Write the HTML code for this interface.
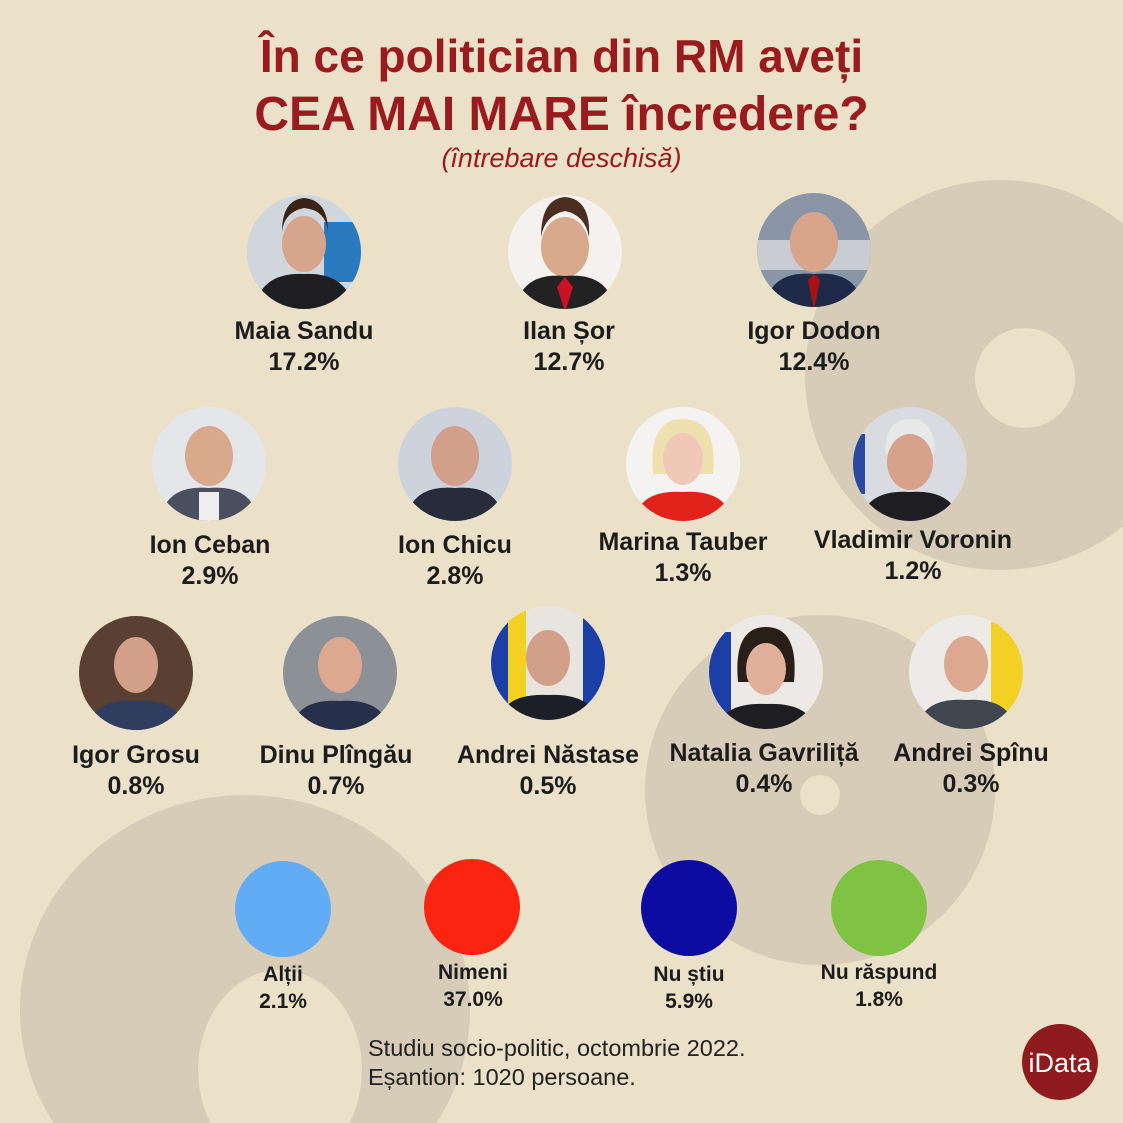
<!DOCTYPE html>
<html style="overflow:hidden"><head><meta charset="utf-8"><style>
html,body{margin:0;width:1123px;height:1123px;overflow:hidden;}
body{background:#ebe1c8;font-family:"Liberation Sans Narrow","Liberation Sans",sans-serif;position:relative;}
.a{position:absolute;}
.t{position:absolute;left:0;width:1123px;text-align:center;color:#9a1b1e;font-weight:bold;}
.lb{position:absolute;text-align:center;font-weight:bold;color:#1c1c1c;font-size:25px;line-height:31px;width:260px;}
.sm{font-size:21px;line-height:27px;}
</style></head><body>
<svg class="a" style="left:0;top:0" width="1123" height="1123">
<g fill="#d6ccb8">
<circle cx="1000" cy="375" r="195"/>
<circle cx="820" cy="790" r="175"/>
<ellipse cx="245" cy="1010" rx="225" ry="215"/>
</g>
<g fill="#ebe1c8">
<circle cx="1025" cy="378" r="50"/>
<circle cx="820" cy="795" r="20"/>
<ellipse cx="280" cy="1070" rx="82" ry="100"/>
</g>
<defs>
<clipPath id="c"><circle cx="0" cy="0" r="57"/></clipPath>
</defs>
<g>
<g transform="translate(304,252)"><g clip-path="url(#c)"><rect x="-60" y="-60" width="120" height="120" fill="#cfd6dc"/><rect x="20" y="-30" width="40" height="60" fill="#2a7ac0"/><ellipse cx="0" cy="-8" rx="22" ry="28" fill="#d6a58c"/><path d="M-22-20q0-32 22-34q24 2 24 34q-2-22-24-24q-20 4-22 24z" fill="#3a2418"/><path d="M-50 60q5-40 50-38q45-2 50 38z" fill="#1d1d22"/></g></g>
<g transform="translate(565,252)"><g clip-path="url(#c)"><rect x="-60" y="-60" width="120" height="120" fill="#f4f1ee"/><ellipse cx="0" cy="-5" rx="24" ry="30" fill="#d9a98c"/><path d="M-24-15q0-38 24-40q26 2 24 40q-4-22-24-26q-20 4-24 26z" fill="#4a2e1f"/><path d="M-50 60q5-40 50-36q45-4 50 36z" fill="#222"/><path d="M-8 35l8-10 8 10-8 25z" fill="#c12"/></g></g>
<g transform="translate(814,250)"><g clip-path="url(#c)"><rect x="-60" y="-60" width="120" height="120" fill="#8a96a8"/><rect x="-60" y="-10" width="120" height="30" fill="#c9ccd2"/><ellipse cx="0" cy="-8" rx="24" ry="30" fill="#d8a48a"/><path d="M-50 60q5-40 50-36q45-4 50 36z" fill="#1f2a48"/><path d="M-6 30l6-6 6 6-6 30z" fill="#a11"/></g></g>
<g transform="translate(209,464)"><g clip-path="url(#c)"><rect x="-60" y="-60" width="120" height="120" fill="#e4e6ea"/><ellipse cx="0" cy="-8" rx="24" ry="30" fill="#d9a98c"/><path d="M-50 60q5-40 50-36q45-4 50 36z" fill="#4b5060"/><rect x="-10" y="28" width="20" height="32" fill="#eee"/></g></g>
<g transform="translate(455,464)"><g clip-path="url(#c)"><rect x="-60" y="-60" width="120" height="120" fill="#cdd3dc"/><ellipse cx="0" cy="-8" rx="24" ry="30" fill="#d2a088"/><path d="M-50 60q5-40 50-36q45-4 50 36z" fill="#262c3a"/></g></g>
<g transform="translate(683,464)"><g clip-path="url(#c)"><rect x="-60" y="-60" width="120" height="120" fill="#f5f3f2"/><path d="M-30 10q-5-55 30-55q35 0 30 55z" fill="#efe0b0"/><ellipse cx="0" cy="-5" rx="20" ry="26" fill="#f0c8b8"/><path d="M-50 60q5-35 50-32q45-3 50 32z" fill="#e1231c"/></g></g>
<g transform="translate(910,464)"><g clip-path="url(#c)"><rect x="-60" y="-60" width="120" height="120" fill="#d9dbe0"/><rect x="-60" y="-30" width="15" height="60" fill="#2a4aa0"/><path d="M-25-10q0-35 25-35q25 0 25 35z" fill="#e8e8e8"/><ellipse cx="0" cy="-2" rx="23" ry="28" fill="#d6a28a"/><path d="M-50 60q5-35 50-32q45-3 50 32z" fill="#1e1e22"/></g></g>
<g transform="translate(136,673)"><g clip-path="url(#c)"><rect x="-60" y="-60" width="120" height="120" fill="#5a4032"/><ellipse cx="0" cy="-8" rx="22" ry="28" fill="#d2a088"/><path d="M-50 60q5-35 50-32q45-3 50 32z" fill="#2e3d60"/></g></g>
<g transform="translate(340,673)"><g clip-path="url(#c)"><rect x="-60" y="-60" width="120" height="120" fill="#8c9097"/><ellipse cx="0" cy="-8" rx="22" ry="28" fill="#dca890"/><path d="M-50 60q5-35 50-32q45-3 50 32z" fill="#27304a"/></g></g>
<g transform="translate(548,663)"><g clip-path="url(#c)"><rect x="-60" y="-60" width="120" height="120" fill="#e8e4de"/><rect x="-60" y="-60" width="25" height="120" fill="#1b3fa6"/><rect x="-40" y="-60" width="18" height="120" fill="#f2d024"/><rect x="35" y="-60" width="25" height="120" fill="#1b3fa6"/><ellipse cx="0" cy="-5" rx="22" ry="28" fill="#d2a088"/><path d="M-50 60q5-30 50-28q45-2 50 28z" fill="#1d1f28"/></g></g>
<g transform="translate(766,672)"><g clip-path="url(#c)"><rect x="-60" y="-60" width="120" height="120" fill="#ece9e6"/><rect x="-60" y="-40" width="25" height="90" fill="#1b3fa6"/><path d="M-28 10q-5-55 28-55q33 0 28 55z" fill="#2a1e18"/><ellipse cx="0" cy="-3" rx="20" ry="26" fill="#e1b09a"/><path d="M-50 60q5-30 50-28q45-2 50 28z" fill="#1e1e22"/></g></g>
<g transform="translate(966,672)"><g clip-path="url(#c)"><rect x="-60" y="-60" width="120" height="120" fill="#ecebe8"/><rect x="25" y="-50" width="35" height="110" fill="#f2d024"/><ellipse cx="0" cy="-8" rx="22" ry="28" fill="#dca890"/><path d="M-50 60q5-35 50-32q45-3 50 32z" fill="#404650"/></g></g>
</g>
<circle cx="283" cy="909" r="48" fill="#62acf6"/>
<circle cx="472" cy="907" r="48" fill="#fb2410"/>
<circle cx="689" cy="908" r="48" fill="#0c0ca2"/>
<circle cx="879" cy="908" r="48" fill="#80c342"/>
<circle cx="1060" cy="1062" r="38" fill="#8e1c1e"/>
<text x="1060" y="1072" text-anchor="middle" fill="#fff" font-family="Liberation Sans" font-size="27">iData</text>
</svg>
<div class="t" style="top:30px;font-size:46px;line-height:52px;">În ce politician din RM aveți</div>
<div class="t" style="top:88px;font-size:48px;line-height:54px;">CEA MAI MARE încredere?</div>
<div class="t" style="top:142px;font-size:27px;line-height:32px;font-weight:normal;font-style:italic;color:#9a1b1e;">(întrebare deschisă)</div>

<div class="lb" style="left:174px;top:316px">Maia Sandu<br>17.2%</div>
<div class="lb" style="left:439px;top:316px">Ilan Șor<br>12.7%</div>
<div class="lb" style="left:684px;top:316px">Igor Dodon<br>12.4%</div>
<div class="lb" style="left:80px;top:530px">Ion Ceban<br>2.9%</div>
<div class="lb" style="left:325px;top:530px">Ion Chicu<br>2.8%</div>
<div class="lb" style="left:553px;top:527px">Marina Tauber<br>1.3%</div>
<div class="lb" style="left:783px;top:525px">Vladimir Voronin<br>1.2%</div>
<div class="lb" style="left:6px;top:740px">Igor Grosu<br>0.8%</div>
<div class="lb" style="left:206px;top:740px">Dinu Plîngău<br>0.7%</div>
<div class="lb" style="left:418px;top:740px">Andrei Năstase<br>0.5%</div>
<div class="lb" style="left:634px;top:738px">Natalia Gavriliță<br>0.4%</div>
<div class="lb" style="left:841px;top:738px">Andrei Spînu<br>0.3%</div>

<div class="lb sm" style="left:153px;top:961px">Alții<br>2.1%</div>
<div class="lb sm" style="left:343px;top:959px">Nimeni<br>37.0%</div>
<div class="lb sm" style="left:559px;top:961px">Nu știu<br>5.9%</div>
<div class="lb sm" style="left:749px;top:959px">Nu răspund<br>1.8%</div>

<div class="a" style="left:368px;top:1034px;font-size:23.5px;line-height:29px;color:#222;font-family:'Liberation Sans',sans-serif;white-space:nowrap">Studiu socio-politic, octombrie 2022.<br>Eșantion: 1020 persoane.</div>
</body></html>
